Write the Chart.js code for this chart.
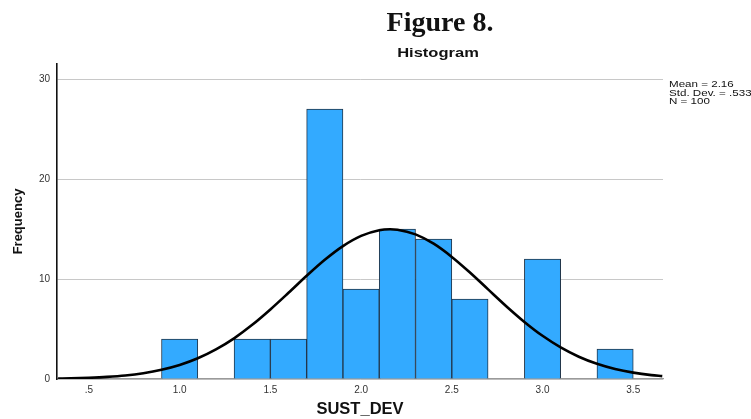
<!DOCTYPE html>
<html>
<head>
<meta charset="utf-8">
<script src="https://cdn.jsdelivr.net/npm/chart.js@4.4.1/dist/chart.umd.min.js"></script>
<style>
  html, body { margin: 0; padding: 0; background: #ffffff; }
  #wrap { position: relative; width: 751px; height: 419px; overflow: hidden; background: #fff; }
  #c { position: absolute; left: 0; top: 0; }
  .fig { position: absolute; left: 440px; top: 8px; transform: translateX(-50%);
         font-family: "Liberation Serif", "DejaVu Serif", serif; font-weight: bold;
         font-size: 28px; line-height: 28px; color: #111; white-space: nowrap; }
  .hist { position: absolute; left: 438px; top: 46px; transform: translateX(-50%) scaleX(1.27);
          font-family: "Liberation Sans", Arial, sans-serif; font-weight: bold;
          font-size: 13px; line-height: 13px; color: #111; white-space: nowrap; }
  .stats { position: absolute; left: 669px; top: 80px; transform-origin: 0 0; transform: scaleX(1.22);
           font-family: "Liberation Sans", Arial, sans-serif; font-size: 9.5px; line-height: 8.6px;
           color: #111; white-space: nowrap; }
</style>
</head>
<body>
<div id="wrap">
  <canvas id="c" width="751" height="419"></canvas>
  <div class="fig">Figure 8.</div>
  <div class="hist">Histogram</div>
  <div class="stats" id="stats"></div>
</div>
<script>
// ---- Data ----
const binCenters  = [1.0, 1.4, 1.6, 1.8, 2.0, 2.2, 2.4, 2.6, 3.0, 3.4];
const frequencies = [4, 4, 4, 27, 9, 15, 14, 8, 12, 3];

const curveX = [0.33, 0.4, 0.5, 0.6, 0.7, 0.8, 0.9, 1.0, 1.1, 1.2, 1.3, 1.4, 1.5, 1.6, 1.7, 1.8, 1.9, 2.0, 2.1, 2.16, 2.2, 2.3, 2.4, 2.5, 2.6, 2.7, 2.8, 2.9, 3.0, 3.1, 3.2, 3.3, 3.4, 3.5, 3.6, 3.66];
const curveY = [0.04, 0.06, 0.12, 0.21, 0.35, 0.58, 0.92, 1.40, 2.07, 2.96, 4.07, 5.42, 6.96, 8.62, 10.32, 11.92, 13.29, 14.31, 14.88, 14.97, 14.93, 14.46, 13.53, 12.21, 10.65, 8.96, 7.28, 5.71, 4.32, 3.16, 2.23, 1.52, 1.00, 0.64, 0.39, 0.29];

const xTicks      = [0.5, 1.0, 1.5, 2.0, 2.5, 3.0, 3.5];
const xTickLabels = [".5", "1.0", "1.5", "2.0", "2.5", "3.0", "3.5"];
const yTicks      = [0, 10, 20, 30];
const yTickLabels = ["0", "10", "20", "30"];

const statLines = ["Mean = 2.16", "Std. Dev. = .533", "N = 100"];

const xTitle = "SUST_DEV";
const yTitle = "Frequency";

// ---- Build chart ----
document.getElementById('stats').innerHTML = statLines.join('<br>');

const barData = binCenters.map((x, i) => ({ x: x, y: frequencies[i] }));
const curveData = curveX.map((x, i) => ({ x: x, y: curveY[i] }));

new Chart(document.getElementById('c'), {
  type: 'bar',
  data: {
    datasets: [
      {
        type: 'line',
        data: curveData,
        borderColor: '#000000',
        borderWidth: 2.6,
        pointRadius: 0,
        fill: false,
        cubicInterpolationMode: 'monotone',
        order: 1
      },
      {
        type: 'bar',
        data: barData,
        backgroundColor: '#33aaff',
        borderColor: '#22364a',
        borderWidth: 1,
        barPercentage: 1.0,
        categoryPercentage: 1.0,
        order: 2
      }
    ]
  },
  options: {
    responsive: false,
    animation: false,
    devicePixelRatio: 1,
    layout: { padding: { left: 0, right: 88, top: 64, bottom: 0 } },
    plugins: {
      legend: { display: false },
      tooltip: { enabled: false },
      title: { display: false }
    },
    scales: {
      x: {
        type: 'linear',
        position: 'bottom',
        min: 0.324,
        max: 3.664,
        offset: false,
        afterBuildTicks: (s) => { s.ticks = xTicks.map(v => ({ value: v })); },
        afterFit: (s) => { s.height = 40; },
        grid: { display: false, drawTicks: false },
        border: { display: true, color: '#9a9a9a', width: 1.2 },
        ticks: {
          padding: 5,
          autoSkip: false,
          maxRotation: 0,
          color: '#333333',
          font: { family: '"Liberation Sans", Arial, sans-serif', size: 10 },
          callback: (v, i) => xTickLabels[i]
        },
        title: {
          display: true,
          text: xTitle,
          color: '#111111',
          padding: { top: 0, bottom: 0 },
          font: { family: '"Liberation Sans", Arial, sans-serif', size: 16.5, weight: 'bold' }
        }
      },
      y: {
        type: 'linear',
        min: 0,
        max: 31.5,
        afterBuildTicks: (s) => { s.ticks = yTicks.map(v => ({ value: v })); },
        afterFit: (s) => { s.width = 57; },
        grid: { color: '#c8c8c8', lineWidth: 1, drawTicks: false },
        border: { display: true, color: '#111111', width: 1.6 },
        ticks: {
          padding: 7,
          color: '#333333',
          font: { family: '"Liberation Sans", Arial, sans-serif', size: 10 },
          callback: (v, i) => yTickLabels[i]
        },
        title: {
          display: true,
          text: yTitle,
          color: '#111111',
          padding: { top: 11, bottom: 0 },
          font: { family: '"Liberation Sans", Arial, sans-serif', size: 13, weight: 'bold' }
        }
      }
    }
  }
});
</script>
</body>
</html>
